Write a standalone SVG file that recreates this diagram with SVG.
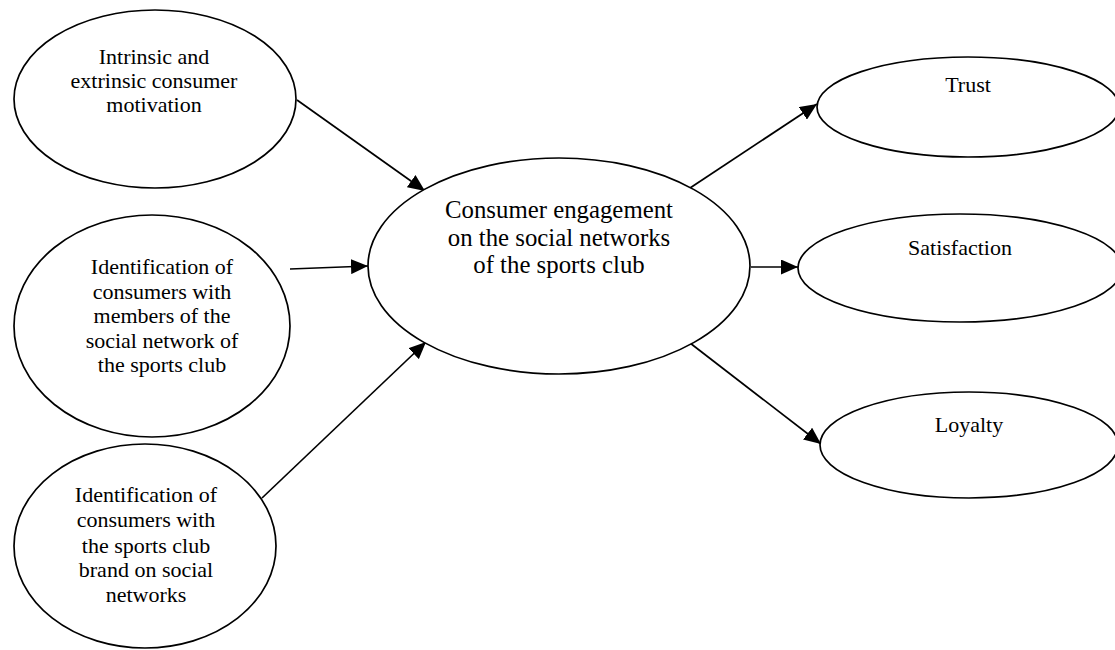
<svg xmlns="http://www.w3.org/2000/svg" width="1115" height="650" viewBox="0 0 1115 650">
<style>
.n{fill:#fff;stroke:#000;stroke-width:1.7}
.t{font-family:"Liberation Serif","Times New Roman",serif;font-size:22px;fill:#000;text-anchor:middle}
.c{font-size:24.8px}
.e{stroke:#000;stroke-width:1.7;fill:none;marker-end:url(#ah)}
</style>
<defs>
<marker id="ah" markerUnits="userSpaceOnUse" markerWidth="18" markerHeight="15" refX="17" refY="7.5" orient="auto">
<path d="M0,0 L17,7.5 L0,15 Z" fill="#000"/>
</marker>
</defs>
<rect width="1115" height="650" fill="#fff"/>
<g id="connectors">
<line class="e" x1="297" y1="100" x2="425" y2="191"/>
<line class="e" x1="290" y1="269" x2="368" y2="266"/>
<line class="e" x1="262" y1="498" x2="426" y2="342"/>
<line class="e" x1="690" y1="188" x2="817" y2="104"/>
<line class="e" x1="751" y1="267" x2="798" y2="267"/>
<line class="e" x1="690" y1="343" x2="821" y2="444"/>
</g>
<g id="motivation">
<ellipse class="n" cx="155" cy="99" rx="141" ry="89"/>
<text class="t" x="154" y="64">Intrinsic and</text>
<text class="t" x="154" y="88">extrinsic consumer</text>
<text class="t" x="154" y="112">motivation</text>
</g>
<g id="identMembers">
<ellipse class="n" cx="152" cy="326" rx="138" ry="111"/>
<text class="t" x="162" y="274">Identification of</text>
<text class="t" x="162" y="299">consumers with</text>
<text class="t" x="162" y="323">members of the</text>
<text class="t" x="162" y="348">social network of</text>
<text class="t" x="162" y="372">the sports club</text>
</g>
<g id="identBrand">
<ellipse class="n" cx="145" cy="546" rx="131" ry="102"/>
<text class="t" x="146" y="502">Identification of</text>
<text class="t" x="146" y="527">consumers with</text>
<text class="t" x="146" y="553">the sports club</text>
<text class="t" x="146" y="577">brand on social</text>
<text class="t" x="146" y="602">networks</text>
</g>
<g id="engagement">
<ellipse class="n" cx="559" cy="266" rx="191" ry="108"/>
<text class="t c" x="559" y="218">Consumer engagement</text>
<text class="t c" x="559" y="246">on the social networks</text>
<text class="t c" x="559" y="273">of the sports club</text>
</g>
<g id="trust">
<ellipse class="n" cx="968" cy="107" rx="151" ry="50"/>
<text class="t" x="968" y="92">Trust</text>
</g>
<g id="satisfaction">
<ellipse class="n" cx="960" cy="268" rx="162" ry="54"/>
<text class="t" x="960" y="255">Satisfaction</text>
</g>
<g id="loyalty">
<ellipse class="n" cx="969" cy="445" rx="149" ry="53"/>
<text class="t" x="969" y="432">Loyalty</text>
</g>
</svg>
